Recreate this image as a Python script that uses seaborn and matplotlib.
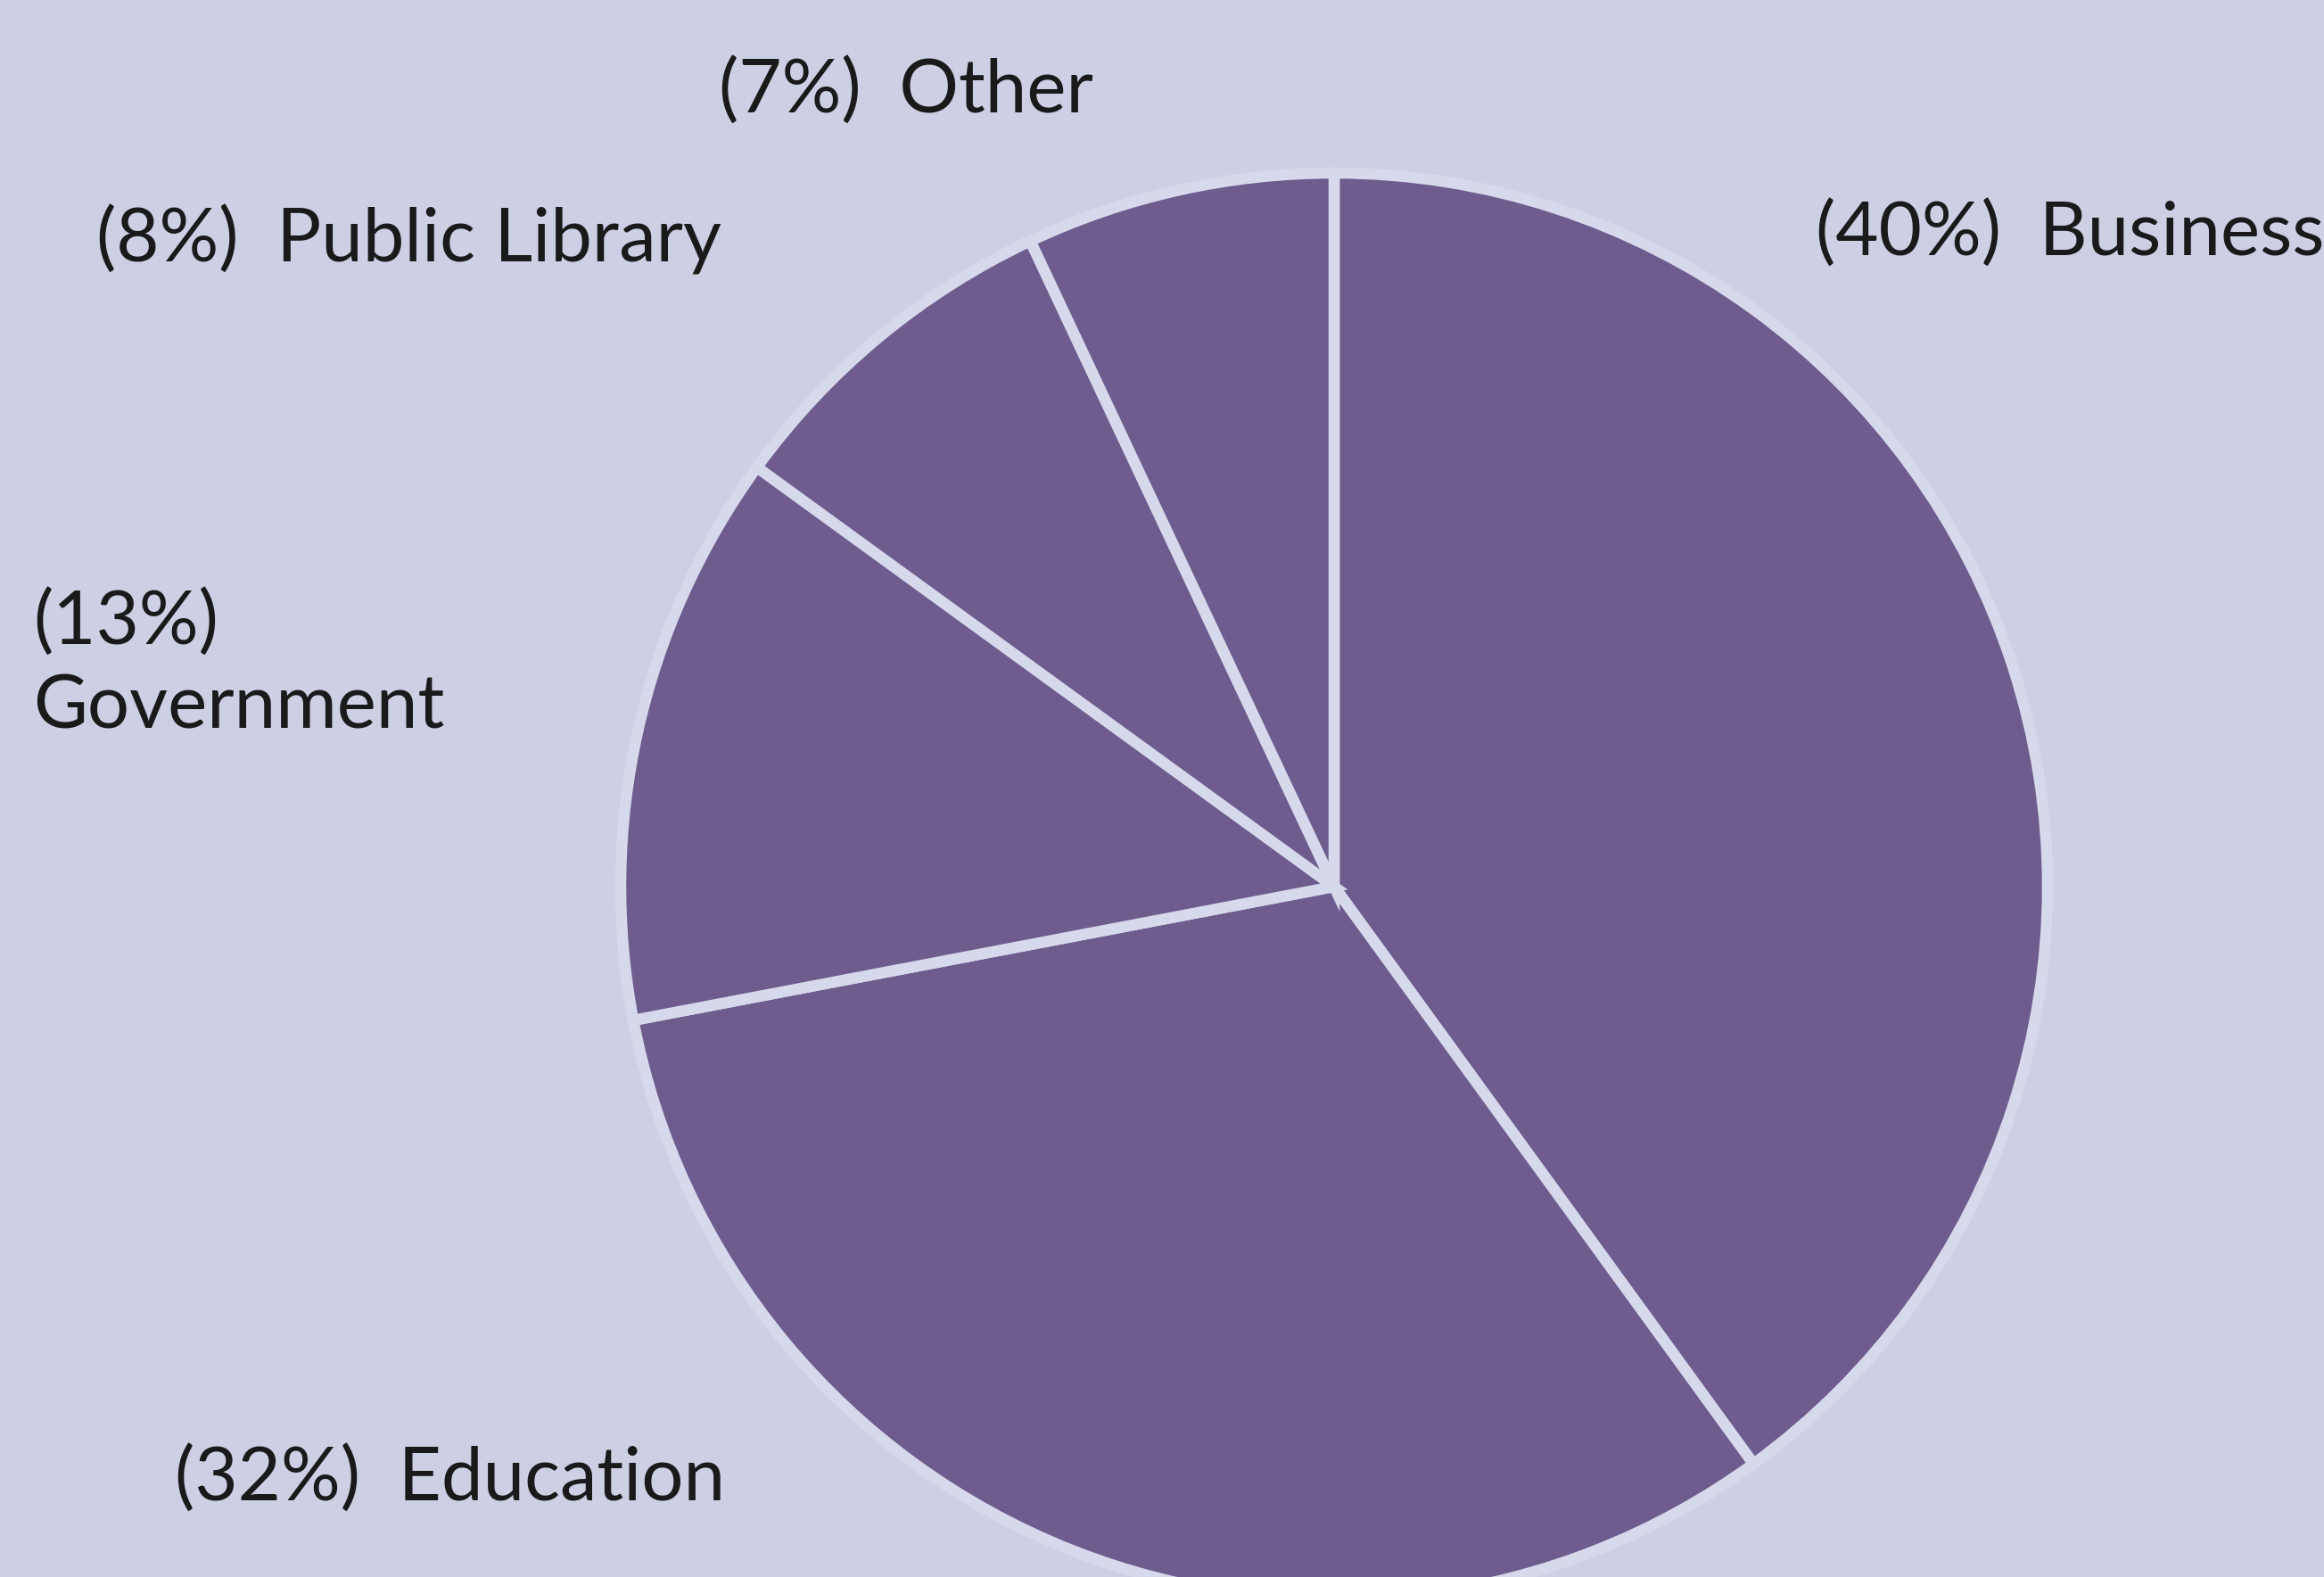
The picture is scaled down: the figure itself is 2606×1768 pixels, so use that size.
import matplotlib
matplotlib.use("Agg")
import matplotlib.pyplot as plt
import seaborn as sns

# Datos del gráfico
sectores = ["Business", "Education", "Government", "Public Library", "Other"]
porcentajes = [40, 32, 13, 8, 7]

# Colores
fondo = "#cdd0e4"
morado = "#6e5c8e"
borde = "#d6d9ec"

sns.set_theme(style="white")
plt.rcParams["font.family"] = ["Lato", "DejaVu Sans"]

fig = plt.figure(figsize=(26.06, 17.68), dpi=100)
fig.patch.set_facecolor(fondo)
ax = fig.add_axes([0, 0, 1, 1])
ax.set_facecolor(fondo)

# Pastel: empieza arriba y va en sentido horario
ax.pie(porcentajes, colors=[morado] * len(porcentajes), startangle=90,
       counterclock=False, center=(1496, 774), radius=800,
       wedgeprops=dict(edgecolor=borde, linewidth=9))

ax.set_xlim(0, 2606)
ax.set_ylim(0, 1768)
ax.set_aspect("equal")
ax.axis("off")

# Etiquetas (posición en píxeles, y medida desde arriba)
etiquetas = {s: f"({p}%)  {s}" for s, p in zip(sectores, porcentajes)}
etiquetas["Government"] = f"({porcentajes[2]}%)\nGovernment"
posiciones = {
    "Business": (2036, 263),
    "Education": (196, 1659),
    "Government": (37, 746),
    "Public Library": (108, 269),
    "Other": (806, 103),
}
for s in sectores:
    x, y = posiciones[s]
    ax.text(x, 1768 - y, etiquetas[s], fontsize=60, color="#1a1a1a",
            ha="left", va="center", linespacing=1.3)

fig.savefig("out.png", dpi=100, facecolor=fondo)
